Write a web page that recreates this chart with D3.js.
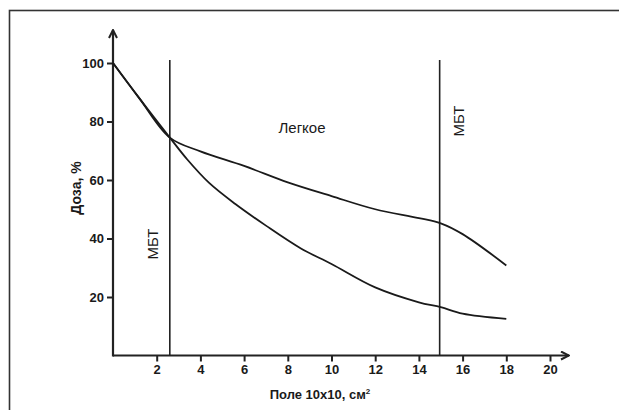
<!DOCTYPE html>
<html>
<head>
  <meta charset="utf-8">
  <title>Доза</title>
  <script src="https://d3js.org/d3.v7.min.js"></script>
  <style>
    body { margin: 0; background: #fff; }
    text { font-family: "Liberation Sans", Arial, sans-serif; fill: #1a1a1a; }
    .tick text { font-weight: bold; font-size: 13px; }
  </style>
</head>
<body>
<div id="output"></div>
<script>
  // field size (x) and dose values
  var lungX     = [0, 1.2, 2.6, 4, 6, 8, 10, 12, 14, 15, 16, 18];
  var lungDose  = [100, 88, 74.5, 69.8, 64.8, 59.2, 54.5, 50, 47, 45.2, 41.5, 30.8];
  var waterX    = [0, 1.2, 2.6, 3.4, 4.4, 5.6, 7, 8.6, 10, 12, 14, 15, 16, 18];
  var waterDose = [100, 88, 74.5, 67, 59, 51.8, 44.4, 36.6, 31.3, 23.3, 18.2, 16.5, 14.3, 12.5];
  var boundaries = [2.6, 14.95];
  var xTicks = [2, 4, 6, 8, 10, 12, 14, 16, 18, 20];
  var yTicks = [20, 40, 60, 80, 100];

  var w = 619, h = 410;
  var svg = d3.select("#output").append("svg")
    .attr("width", w).attr("height", h);

  // outer frame
  svg.append("rect")
    .attr("x", 9.5).attr("y", 10.5)
    .attr("width", 640).attr("height", 420)
    .attr("fill", "none").attr("stroke", "#333").attr("stroke-width", 1.6);

  var x = d3.scaleLinear().domain([0, 20]).range([113, 550]);
  var y = d3.scaleLinear().domain([0, 100]).range([355.5, 63]);

  var xAxis = d3.axisBottom(x).tickValues(xTicks).tickSize(6).tickPadding(3);
  var yAxis = d3.axisLeft(y).tickValues(yTicks).tickSize(6).tickPadding(3);

  var gx = svg.append("g").attr("transform", "translate(0,355.5)").call(xAxis);
  var gy = svg.append("g").attr("transform", "translate(113,0)").call(yAxis);
  [gx, gy].forEach(function(g) {
    g.select(".domain").remove();
    g.selectAll(".tick line").attr("stroke", "#222").attr("stroke-width", 2);
    g.selectAll(".tick text").attr("fill", "#1a1a1a");
  });

  // axis lines with arrows
  svg.append("defs").append("marker")
    .attr("id", "arr").attr("viewBox", "0 0 10 10")
    .attr("refX", 9).attr("refY", 5)
    .attr("markerWidth", 10).attr("markerHeight", 10)
    .attr("markerUnits", "userSpaceOnUse")
    .attr("orient", "auto")
    .append("path").attr("d", "M1,1 L9,5 L1,9")
    .attr("fill", "none").attr("stroke", "#222").attr("stroke-width", 2);

  svg.append("line")
    .attr("x1", x(0)).attr("y1", y(0)).attr("x2", x(20) + 19).attr("y2", y(0))
    .attr("stroke", "#222").attr("stroke-width", 2.2).attr("marker-end", "url(#arr)");
  svg.append("line")
    .attr("x1", x(0)).attr("y1", y(0) + 1).attr("x2", x(0)).attr("y2", 30)
    .attr("stroke", "#222").attr("stroke-width", 2.2).attr("marker-end", "url(#arr)");

  // vertical boundary lines
  svg.selectAll(".bound").data(boundaries).enter().append("line")
    .attr("class", "bound")
    .attr("x1", function(d) { return x(d); }).attr("x2", function(d) { return x(d); })
    .attr("y1", y(101)).attr("y2", y(0))
    .attr("stroke", "#222").attr("stroke-width", 1.6);

  function drawCurve(xs, ys) {
    var line = d3.line()
      .x(function(d, i) { return x(xs[i]); })
      .y(function(d) { return y(d); })
      .curve(d3.curveCatmullRom.alpha(0.5));
    svg.append("path").datum(ys)
      .attr("d", line)
      .attr("fill", "none").attr("stroke", "#1a1a1a").attr("stroke-width", 1.8);
  }
  drawCurve(lungX, lungDose);
  drawCurve(waterX, waterDose);

  // labels
  svg.append("text").attr("x", 302).attr("y", 133)
    .attr("text-anchor", "middle").attr("font-size", 15).text("Легкое");

  svg.append("text")
    .attr("transform", "translate(158,244) rotate(-90)")
    .attr("text-anchor", "middle").attr("font-size", 15).text("МБТ");
  svg.append("text")
    .attr("transform", "translate(464,121) rotate(-90)")
    .attr("text-anchor", "middle").attr("font-size", 15).text("МБТ");

  svg.append("text")
    .attr("transform", "translate(81,188) rotate(-90)")
    .attr("text-anchor", "middle").attr("font-size", 14).attr("font-weight", "bold")
    .text("Доза, %");

  var xl = svg.append("text").attr("x", 320).attr("y", 399)
    .attr("text-anchor", "middle").attr("font-size", 13).attr("font-weight", "bold");
  xl.append("tspan").text("Поле 10х10, см");
  xl.append("tspan").attr("font-size", 8).attr("dy", -5).text("2");
</script>
</body>
</html>
